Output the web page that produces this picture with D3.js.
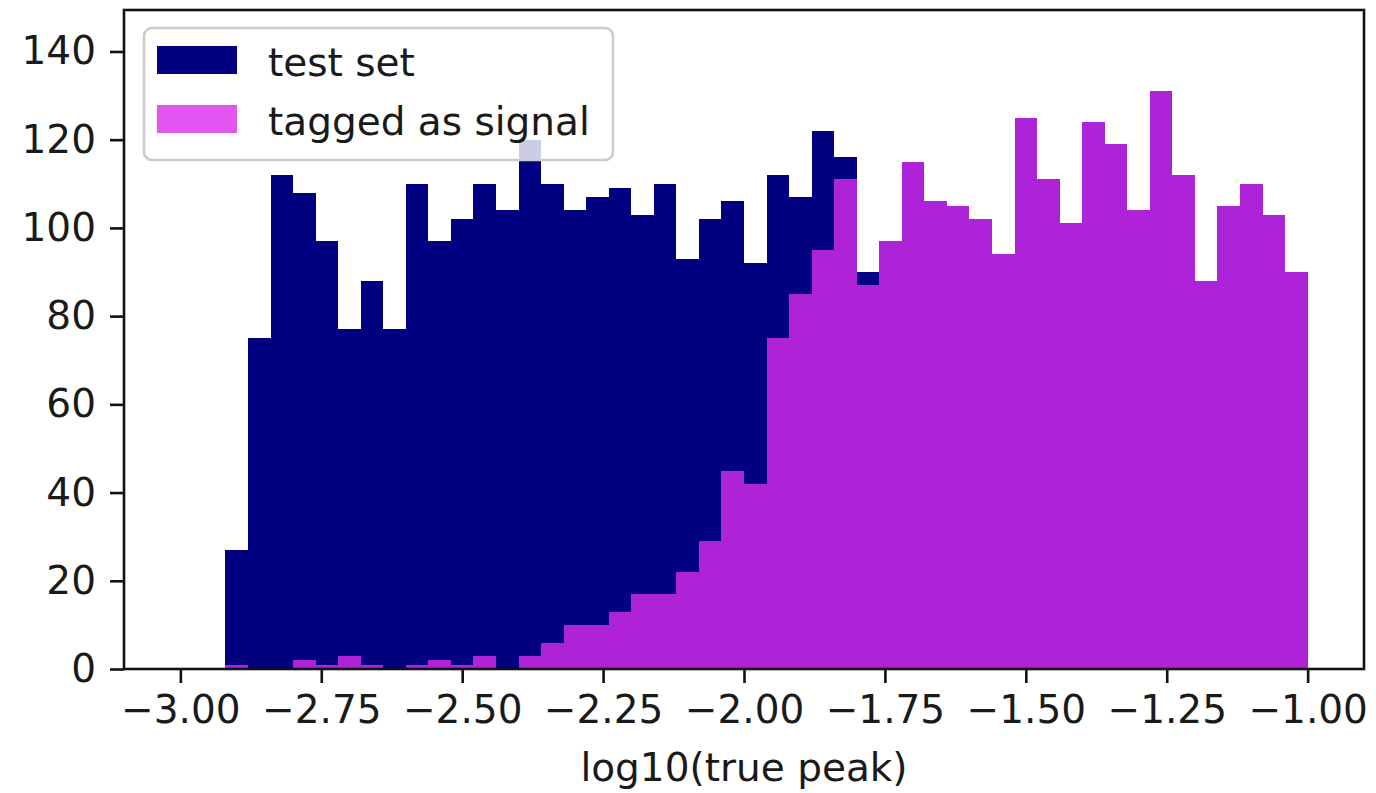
<!DOCTYPE html>
<html>
<head>
<meta charset="utf-8">
<script src="https://cdn.jsdelivr.net/npm/d3@7"></script>
<style>
  body { margin: 0; background: white; }
  svg { display: block; font-family: "DejaVu Sans", sans-serif; }
</style>
</head>
<body>
<div id="chart"></div>
<script>
// --- DATA ---
// histogram bins: 48 bins of 0.04 from -2.92 to -1.00
const binLo = -2.92;
const binHi = -1.00;
const nBins = 48;

const testSet = [27, 75, 112, 108, 97, 77, 88, 77, 110, 97, 102, 110, 104, 120, 110, 104,
                 107, 109, 103, 110, 93, 102, 106, 92, 112, 107, 122, 116, 90, 97, 115, 106,
                 105, 102, 94, 125, 111, 101, 124, 119, 104, 131, 112, 88, 105, 110, 103, 90];

const taggedSignal = [1, 0, 0, 2, 1, 3, 1, 0, 1, 2, 1, 3, 0, 3, 6, 10,
                      10, 13, 17, 17, 22, 29, 45, 42, 75, 85, 95, 111, 87, 97, 115, 106,
                      105, 102, 94, 125, 111, 101, 124, 119, 104, 131, 112, 88, 105, 110, 103, 90];

const xTicks = [-3.00, -2.75, -2.50, -2.25, -2.00, -1.75, -1.50, -1.25, -1.00];
const yTicks = [0, 20, 40, 60, 80, 100, 120, 140];

const seriesNames = ["test set", "tagged as signal"];

// 1. SETUP
const width = 1376;
const height = 793;
const margin = { top: 10, right: 12, bottom: 124, left: 124 };
const fontSize = 39;

const svg = d3.select("#chart")
    .append("svg")
    .attr("width", width)
    .attr("height", height)
    .attr("viewBox", [0, 0, width, height]);

// --- SCALES ---
const binW = (binHi - binLo) / nBins;
const x = d3.scaleLinear()
    .domain([-3.1, -0.9])
    .range([margin.left, width - margin.right]);

const y = d3.scaleLinear()
    .domain([0, 149.4])
    .range([height - margin.bottom, margin.top]);

const bins = testSet.map((d, i) => ({
    x0: binLo + i * binW,
    x1: binLo + (i + 1) * binW,
    test: d,
    tagged: taggedSignal[i]
}));

// --- BARS ---
svg.append("g")
    .selectAll("rect")
    .data(bins)
    .join("rect")
    .attr("x", d => x(d.x0))
    .attr("width", d => x(d.x1) - x(d.x0))
    .attr("y", d => y(d.test))
    .attr("height", d => y(0) - y(d.test))
    .attr("fill", "#000080")
    .attr("shape-rendering", "crispEdges");

svg.append("g")
    .selectAll("rect")
    .data(bins.filter(d => d.tagged > 0))
    .join("rect")
    .attr("x", d => x(d.x0))
    .attr("width", d => x(d.x1) - x(d.x0))
    .attr("y", d => y(d.tagged))
    .attr("height", d => y(0) - y(d.tagged))
    .attr("fill", "#d92aee")
    .attr("fill-opacity", 0.8)
    .attr("shape-rendering", "crispEdges");

// --- AXES ---
const xAxis = svg.append("g")
    .attr("transform", `translate(0, ${height - margin.bottom})`)
    .call(d3.axisBottom(x)
        .tickValues(xTicks)
        .tickFormat(d3.format(".2f"))
        .tickSize(14)
        .tickPadding(12)
        .tickSizeOuter(0));

const yAxis = svg.append("g")
    .attr("transform", `translate(${margin.left}, 0)`)
    .call(d3.axisLeft(y)
        .tickValues(yTicks)
        .tickSize(14)
        .tickPadding(14)
        .tickSizeOuter(0));

[xAxis, yAxis].forEach(g => {
    g.select(".domain").remove();
    g.selectAll(".tick line").attr("stroke", "#111").attr("stroke-width", 2.6);
    g.selectAll(".tick text")
        .attr("fill", "#1a1a1a")
        .style("font-size", fontSize + "px")
        .style("font-family", "DejaVu Sans, sans-serif");
});

// frame (spines)
svg.append("rect")
    .attr("x", margin.left)
    .attr("y", margin.top)
    .attr("width", width - margin.left - margin.right)
    .attr("height", height - margin.top - margin.bottom)
    .attr("fill", "none")
    .attr("stroke", "#111")
    .attr("stroke-width", 2.6);

// axis label
svg.append("text")
    .attr("x", (margin.left + width - margin.right) / 2)
    .attr("y", 781)
    .attr("text-anchor", "middle")
    .attr("font-size", fontSize)
    .attr("fill", "#1a1a1a")
    .text("log10(true peak)");

// --- LEGEND ---
const legend = svg.append("g")
    .attr("transform", "translate(144, 28)");

legend.append("rect")
    .attr("width", 469)
    .attr("height", 132)
    .attr("rx", 8)
    .attr("fill", "white")
    .attr("fill-opacity", 0.8)
    .attr("stroke", "#cccccc")
    .attr("stroke-width", 2.6);

const swatchColors = [
    { fill: "#000080", opacity: 1 },
    { fill: "#d92aee", opacity: 0.8 }
];

const item = legend.selectAll(".item")
    .data(seriesNames)
    .join("g")
    .attr("class", "item")
    .attr("transform", (d, i) => `translate(13, ${18 + i * 59})`);

item.append("rect")
    .attr("width", 80)
    .attr("height", 28)
    .attr("fill", (d, i) => swatchColors[i].fill)
    .attr("fill-opacity", (d, i) => swatchColors[i].opacity);

item.append("text")
    .attr("x", 111)
    .attr("y", 30)
    .attr("font-size", fontSize)
    .attr("fill", "#1a1a1a")
    .text(d => d);
</script>
</body>
</html>
